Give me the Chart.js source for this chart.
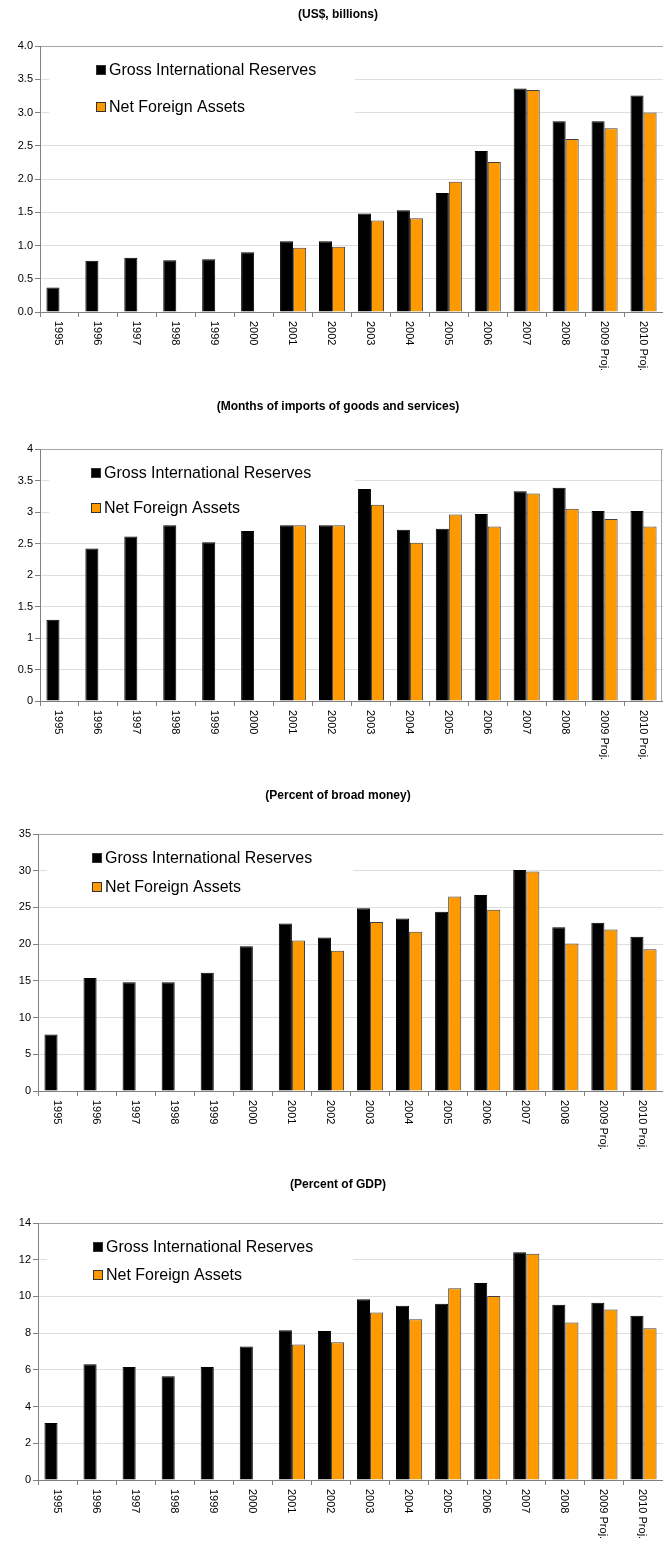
<!DOCTYPE html>
<html>
<head>
<meta charset="utf-8">
<script src="https://cdn.jsdelivr.net/npm/chart.js@4/dist/chart.umd.min.js"></script>
<style>
  body { margin: 0; background: #fff; }
  .bloque { position: relative; width: 663px; }
  canvas { display: block; }
</style>
</head>
<body>
<div class="bloque"><canvas id="graf1" width="663" height="392"></canvas></div>
<div class="bloque"><canvas id="graf2" width="663" height="389"></canvas></div>
<div class="bloque"><canvas id="graf3" width="663" height="389"></canvas></div>
<div class="bloque"><canvas id="graf4" width="663" height="372"></canvas></div>

<script>
let anios = ["1995", "1996", "1997", "1998", "1999", "2000", "2001", "2002", "2003",
             "2004", "2005", "2006", "2007", "2008", "2009 Proj.", "2010 Proj."];
let nombreGross = "Gross International Reserves";
let nombreNfa = "Net Foreign Assets";

let grossUsd = [0.37, 0.77, 0.815, 0.78, 0.795, 0.90, 1.065, 1.065, 1.48, 1.53, 1.79, 2.42, 3.36, 2.87, 2.87, 3.255];
let nfaUsd = [null, null, null, null, null, null, 0.965, 0.98, 1.375, 1.41, 1.96, 2.255, 3.34, 2.60, 2.765, 3.00];

let grossMeses = [1.29, 2.42, 2.61, 2.79, 2.52, 2.70, 2.79, 2.79, 3.365, 2.72, 2.735, 2.97, 3.33, 3.385, 3.015, 3.015];
let nfaMeses = [null, null, null, null, null, null, 2.79, 2.79, 3.115, 2.51, 2.96, 2.77, 3.295, 3.05, 2.89, 2.77];

let grossDinero = [7.7, 15.4, 14.8, 14.8, 16.1, 19.7, 22.8, 20.9, 24.9, 23.5, 24.4, 26.7, 30.1, 22.3, 22.9, 21.0];
let nfaDinero = [null, null, null, null, null, null, 20.5, 19.1, 23.0, 21.7, 26.5, 24.7, 29.9, 20.1, 22.0, 19.3];

let grossPib = [3.1, 6.3, 6.15, 5.65, 6.15, 7.27, 8.16, 8.11, 9.84, 9.49, 9.6, 10.73, 12.4, 9.55, 9.65, 8.95];
let nfaPib = [null, null, null, null, null, null, 7.38, 7.51, 9.13, 8.76, 10.44, 10.02, 12.33, 8.58, 9.29, 8.27];

let titulos = ["(US$, billions)", "(Months of imports of goods and services)",
               "(Percent of broad money)", "(Percent of GDP)"];
let ejeMax = [4, 4, 35, 14];
let ejePaso = [0.5, 0.5, 5, 2];

const fuente = "'Liberation Sans', Arial, sans-serif";

// titulo, leyenda dentro del area y etiquetas verticales del eje x
const extras = {
    id: "extras",
    beforeDatasetsDraw(chart, args, opts) {
        const ctx = chart.ctx;
        const area = chart.chartArea;
        const y1 = area.top + 24;
        const y2 = area.top + opts.sepLeyenda;
        ctx.save();
        ctx.fillStyle = "#fff";
        ctx.fillRect(area.left + 9, area.top + 8, 306, y2 - area.top + 4);

        const items = chart.data.datasets;
        [y1, y2].forEach((y, i) => {
            const x = opts.xLeyenda;
            ctx.fillStyle = items[i].backgroundColor;
            ctx.fillRect(x, y - 5, 10, 10);
            ctx.strokeStyle = "#333";
            ctx.lineWidth = 1;
            ctx.strokeRect(x + 0.5, y - 4.5, 9, 9);
            ctx.fillStyle = "#000";
            ctx.font = "16px " + fuente;
            ctx.textBaseline = "middle";
            ctx.textAlign = "left";
            ctx.fillText(items[i].label, x + 13, y + 1);
        });
        ctx.restore();
    },
    afterDraw(chart, args, opts) {
        const ctx = chart.ctx;
        const area = chart.chartArea;
        const escalaX = chart.scales.x;
        ctx.save();
        ctx.fillStyle = "#000";
        ctx.font = "bold 12px " + fuente;
        ctx.textAlign = "center";
        ctx.textBaseline = "middle";
        ctx.fillText(opts.titulo, 338, 15);

        ctx.font = "11px " + fuente;
        ctx.textAlign = "left";
        chart.data.labels.forEach((etiqueta, i) => {
            const x = escalaX.getPixelForValue(i);
            ctx.save();
            ctx.translate(x - 1, area.bottom + 9);
            ctx.rotate(Math.PI / 2);
            ctx.fillText(etiqueta, 0, 0);
            ctx.restore();
        });

        if (opts.bordeDerecho) {
            ctx.strokeStyle = "#a6a6a6";
            ctx.lineWidth = 1;
            ctx.beginPath();
            ctx.moveTo(area.right - 1.5, area.top);
            ctx.lineTo(area.right - 1.5, area.bottom);
            ctx.stroke();
        }
        ctx.restore();
    }
};

function renderGrafico(idCanvas, n, gross, nfa, conf) {
    const canvas = document.querySelector(idCanvas);
    const alto = canvas.height;

    const datasets = [
        {
            label: nombreGross,
            data: gross,
            backgroundColor: "#000000",
            borderColor: "#000000",
            borderWidth: 1
        },
        {
            label: nombreNfa,
            data: nfa,
            backgroundColor: "#ff9900",
            borderColor: "#404040",
            borderWidth: 1
        }
    ];

    return new Chart(canvas, {
        type: "bar",
        data: { labels: anios, datasets },
        plugins: [extras],
        options: {
            responsive: false,
            animation: false,
            layout: { padding: { top: conf.arriba, left: 0, right: 0, bottom: 0 } },
            datasets: { bar: { categoryPercentage: 0.67, barPercentage: 1.0 } },
            plugins: {
                legend: { display: false },
                tooltip: { enabled: false },
                extras: {
                    titulo: titulos[n],
                    xLeyenda: conf.xLeyenda,
                    sepLeyenda: conf.sepLeyenda,
                    bordeDerecho: conf.bordeDerecho
                }
            },
            scales: {
                x: {
                    offset: true,
                    ticks: { display: false },
                    grid: {
                        offset: true,
                        drawOnChartArea: false,
                        drawTicks: true,
                        tickLength: 5,
                        tickColor: "#808080"
                    },
                    border: { color: "#808080", width: 1 },
                    afterFit(escala) { escala.height = alto - conf.abajo; }
                },
                y: {
                    min: 0,
                    max: ejeMax[n],
                    ticks: {
                        stepSize: ejePaso[n],
                        color: "#000",
                        padding: 2,
                        font: { family: fuente, size: 11 },
                        callback: conf.formato
                    },
                    grid: {
                        color: (c) => c.tick.value === ejeMax[n] ? "#a6a6a6" : "#dedede",
                        tickLength: 5,
                        tickColor: "#808080"
                    },
                    border: { color: "#808080", width: 1 },
                    afterFit(escala) { escala.width = conf.ancho; }
                }
            }
        }
    });
}

renderGrafico("#graf1", 0, grossUsd, nfaUsd, {
    arriba: 46, abajo: 312, ancho: 40, xLeyenda: 96, sepLeyenda: 61, bordeDerecho: false,
    formato: (v) => v.toFixed(1)
});
renderGrafico("#graf2", 1, grossMeses, nfaMeses, {
    arriba: 57, abajo: 309, ancho: 40, xLeyenda: 91, sepLeyenda: 59, bordeDerecho: true,
    formato: (v) => String(v)
});
renderGrafico("#graf3", 2, grossDinero, nfaDinero, {
    arriba: 53, abajo: 310, ancho: 38, xLeyenda: 92, sepLeyenda: 53, bordeDerecho: false,
    formato: (v) => String(v)
});
renderGrafico("#graf4", 3, grossPib, nfaPib, {
    arriba: 53, abajo: 310, ancho: 38, xLeyenda: 93, sepLeyenda: 52, bordeDerecho: false,
    formato: (v) => String(v)
});
</script>
</body>
</html>
